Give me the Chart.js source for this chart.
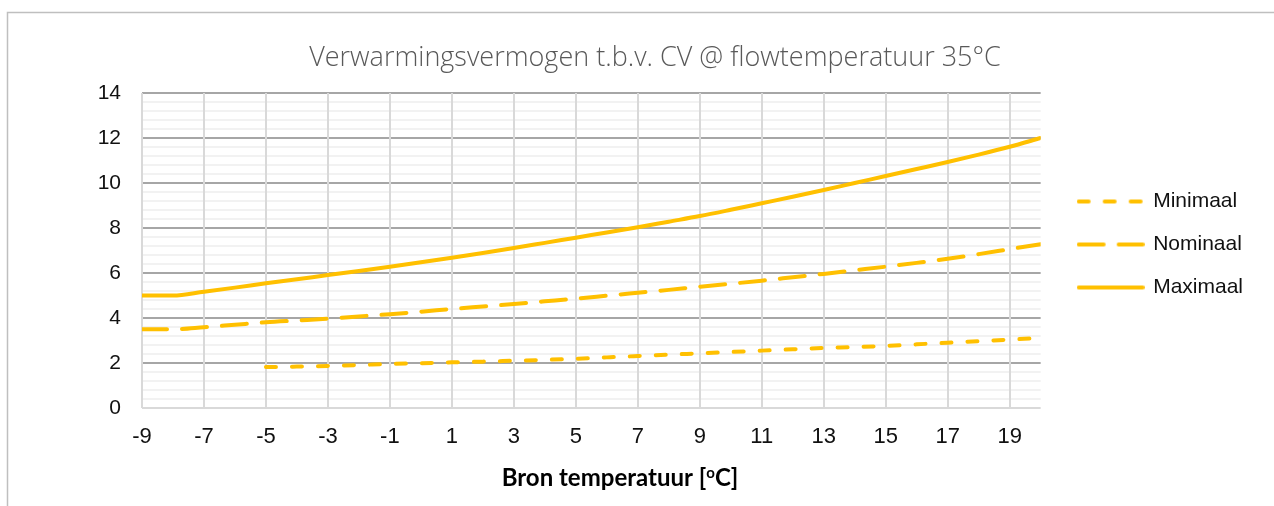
<!DOCTYPE html>
<html>
<head>
<meta charset="utf-8">
<script src="https://cdn.jsdelivr.net/npm/chart.js@4.4.1/dist/chart.umd.min.js"></script>
<style>
    html, body { margin: 0; padding: 0; background: #fff; }
    #wrap { width: 1274px; height: 506px; position: relative; }
</style>
</head>
<body>
<div id="wrap"><canvas id="vermogenChart"></canvas></div>
<script>
// texts
var titleText = "Verwarmingsvermogen t.b.v. CV @ flowtemperatuur 35°C";
var xTitleParts = ["Bron temperatuur [", "o", "C]"];

// tick labels
var xTicks = [-9, -7, -5, -3, -1, 1, 3, 5, 7, 9, 11, 13, 15, 17, 19];
var yLabels = [0, 2, 4, 6, 8, 10, 12, 14];
var yMinorStep = 0.4;

// series
var seriesNames = ["Minimaal", "Nominaal", "Maximaal"];
var tempShort = [-5, -4, -3, -2, -1, 0, 1, 2, 3, 4, 5, 6, 7, 8, 9, 10, 11, 12, 13, 14, 15, 16, 17, 18, 19, 20];
var tempFull = [-9, -8, -7, -6, -5, -4, -3, -2, -1, 0, 1, 2, 3, 4, 5, 6, 7, 8, 9, 10, 11, 12, 13, 14, 15, 16, 17, 18, 19, 20];
var minimaal = [1.82, 1.84, 1.87, 1.91, 1.96, 1.99, 2.03, 2.06, 2.10, 2.14, 2.19, 2.25, 2.31, 2.37, 2.43, 2.49, 2.55, 2.61, 2.67, 2.71, 2.76, 2.83, 2.90, 2.97, 3.04, 3.11];
var nominaal = [3.50, 3.50, 3.59, 3.70, 3.81, 3.89, 3.97, 4.07, 4.17, 4.28, 4.40, 4.51, 4.62, 4.74, 4.86, 4.99, 5.12, 5.25, 5.39, 5.52, 5.66, 5.81, 5.96, 6.12, 6.28, 6.45, 6.63, 6.84, 7.06, 7.28];
var maximaal = [5.00, 5.00, 5.17, 5.35, 5.54, 5.72, 5.91, 6.09, 6.28, 6.48, 6.68, 6.89, 7.11, 7.34, 7.57, 7.80, 8.03, 8.28, 8.53, 8.81, 9.10, 9.39, 9.69, 10.00, 10.31, 10.62, 10.93, 11.26, 11.61, 12.00];

var lineColor = "#FFC000";
var dashMin = [10, 16];
var dashNom = [25, 15];
var tickFont = "Liberation Sans, Arial, sans-serif";

function toPoints(xs, ys) {
    return xs.map(function (x, i) { return { x: x, y: ys[i] }; });
}

function isMajor(v) {
    return yLabels.some(function (l) { return Math.abs(l - v) < 1e-6; });
}

// small canvas used as legend symbol (keeps the dash pattern)
function legendLine(dash) {
    var c = document.createElement("canvas");
    c.width = 68;
    c.height = 8;
    var g = c.getContext("2d");
    g.strokeStyle = lineColor;
    g.lineWidth = 4;
    g.lineCap = "round";
    g.setLineDash(dash);
    g.beginPath();
    g.moveTo(2, 4);
    g.lineTo(66, 4);
    g.stroke();
    return c;
}

// frame, titles and legend offset
var decorations = {
    id: "decorations",
    afterLayout: function (chart) {
        var lg = chart.legend;
        lg.left += 16; lg.right += 16;
        lg.top -= 6; lg.bottom -= 6;
    },
    beforeDraw: function (chart) {
        var ctx = chart.ctx;
        ctx.save();
        ctx.strokeStyle = "#BFBFBF";
        ctx.lineWidth = 1.5;
        ctx.beginPath();
        ctx.moveTo(7.5, 506);
        ctx.lineTo(7.5, 12.5);
        ctx.lineTo(1274, 12.5);
        ctx.stroke();
        ctx.restore();
    },
    afterDraw: function (chart) {
        var ctx = chart.ctx;
        ctx.save();
        ctx.fillStyle = "#595959";
        ctx.font = '300 27px "Open Sans"';
        ctx.textAlign = "center";
        ctx.textBaseline = "middle";
        ctx.fillText(titleText, 655, 58);

        // x axis title with superscript o
        var big = "bold 24px Lato";
        var small = "bold 15px Lato";
        ctx.fillStyle = "#000";
        ctx.textAlign = "left";
        ctx.textBaseline = "alphabetic";
        ctx.font = big;
        var w1 = ctx.measureText(xTitleParts[0]).width;
        var w3 = ctx.measureText(xTitleParts[2]).width;
        ctx.font = small;
        var w2 = ctx.measureText(xTitleParts[1]).width;
        var x0 = 620 - (w1 + w2 + w3) / 2;
        var base = 486;
        ctx.font = big;
        ctx.fillText(xTitleParts[0], x0, base);
        ctx.font = small;
        ctx.fillText(xTitleParts[1], x0 + w1, base - 8);
        ctx.font = big;
        ctx.fillText(xTitleParts[2], x0 + w1 + w2, base);
        ctx.restore();
    }
};

var ctx = document.getElementById("vermogenChart").getContext("2d");
new Chart(ctx, {
    type: "line",
    data: {
        datasets: [
            {
                label: seriesNames[0],
                data: toPoints(tempShort, minimaal),
                borderColor: lineColor,
                backgroundColor: lineColor,
                borderWidth: 4,
                borderDash: dashMin,
                borderCapStyle: "round",
                pointRadius: 0,
                pointStyle: legendLine(dashMin),
                cubicInterpolationMode: "monotone"
            },
            {
                label: seriesNames[1],
                data: toPoints(tempFull, nominaal),
                borderColor: lineColor,
                backgroundColor: lineColor,
                borderWidth: 4,
                borderDash: dashNom,
                borderCapStyle: "round",
                pointRadius: 0,
                pointStyle: legendLine(dashNom),
                cubicInterpolationMode: "monotone"
            },
            {
                label: seriesNames[2],
                data: toPoints(tempFull, maximaal),
                borderColor: lineColor,
                backgroundColor: lineColor,
                borderWidth: 4,
                borderCapStyle: "round",
                pointRadius: 0,
                pointStyle: legendLine([]),
                cubicInterpolationMode: "monotone"
            }
        ]
    },
    options: {
        responsive: true,
        maintainAspectRatio: false,
        animation: false,
        devicePixelRatio: 1,
        layout: {
            padding: { left: 0, top: 93, right: 37, bottom: 0 }
        },
        plugins: {
            title: { display: false },
            tooltip: { enabled: false },
            legend: {
                position: "right",
                fullSize: false,
                labels: {
                    usePointStyle: true,
                    pointStyleWidth: 64,
                    padding: 22,
                    color: "#111",
                    font: { family: tickFont, size: 21 }
                }
            }
        },
        scales: {
            x: {
                type: "linear",
                min: -9,
                max: 20,
                afterBuildTicks: function (scale) {
                    scale.ticks = xTicks.map(function (v) { return { value: v }; });
                },
                afterFit: function (scale) { scale.height = 98; },
                ticks: {
                    autoSkip: false,
                    maxRotation: 0,
                    padding: 16,
                    color: "#111",
                    font: { family: tickFont, size: 22 }
                },
                grid: { color: "#D9D9D9", lineWidth: 2, drawTicks: false, z: 0 },
                border: { display: false }
            },
            y: {
                type: "linear",
                min: 0,
                max: 14,
                afterBuildTicks: function (scale) {
                    var ticks = [];
                    var n = Math.round(14 / yMinorStep);
                    for (var i = 0; i <= n; i++) {
                        ticks.push({ value: Math.round(i * yMinorStep * 10) / 10 });
                    }
                    scale.ticks = ticks;
                },
                afterFit: function (scale) { scale.width = 142; },
                ticks: {
                    autoSkip: false,
                    padding: 21,
                    color: "#111",
                    font: { family: tickFont, size: 21 },
                    callback: function (value) {
                        return isMajor(value) ? String(Math.round(value)) : "";
                    }
                },
                grid: {
                    drawTicks: false,
                    lineWidth: 2,
                    z: -1,
                    color: function (c) {
                        var v = c.tick ? c.tick.value : 1;
                        if (Math.abs(v) < 1e-6) return "#D9D9D9";
                        return isMajor(v) ? "#A6A6A6" : "#F2F2F2";
                    }
                },
                border: { display: false }
            }
        }
    },
    plugins: [decorations]
});
</script>
</body>
</html>
